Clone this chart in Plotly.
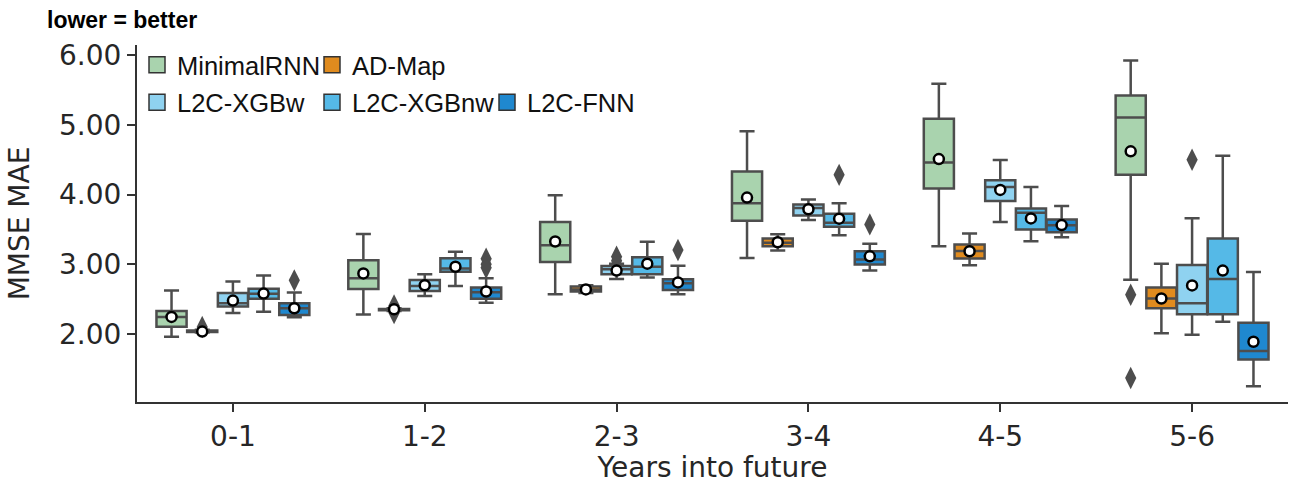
import plotly.graph_objects as go

# ---------------- data ----------------
categories = ["0-1", "1-2", "2-3", "3-4", "4-5", "5-6"]
series_names = ["MinimalRNN", "AD-Map", "L2C-XGBw", "L2C-XGBnw", "L2C-FNN"]

minrnn_low = [1.96, 2.28, 2.57, 3.09, 3.26, 2.78]
minrnn_q1 = [2.105, 2.645, 3.035, 3.626, 4.088, 4.284]
minrnn_med = [2.245, 2.80, 3.274, 3.876, 4.463, 5.107]
minrnn_q3 = [2.33, 3.06, 3.606, 4.333, 5.088, 5.424]
minrnn_high = [2.625, 3.435, 3.991, 4.91, 5.593, 5.925]
minrnn_mean = [2.245, 2.87, 3.328, 3.958, 4.511, 4.622]
minrnn_out = [[], [], [], [], [], [2.563, 1.369]]

admap_low = [2.02, 2.33, 2.59, 3.20, 2.986, 2.01]
admap_q1 = [2.03, 2.34, 2.61, 3.26, 3.082, 2.37]
admap_med = [2.04, 2.35, 2.64, 3.31, 3.19, 2.51]
admap_q3 = [2.05, 2.36, 2.68, 3.371, 3.284, 2.668]
admap_high = [2.06, 2.37, 2.70, 3.43, 3.443, 3.01]
admap_mean = [2.035, 2.355, 2.64, 3.317, 3.188, 2.51]
admap_out = [[2.10], [2.41, 2.30], [], [], [], []]

xgbw_low = [2.30, 2.545, 2.79, 3.635, 3.606, 1.99]
xgbw_q1 = [2.394, 2.617, 2.856, 3.70, 3.909, 2.284]
xgbw_med = [2.44, 2.69, 2.93, 3.81, 4.111, 2.443]
xgbw_q3 = [2.587, 2.775, 2.975, 3.86, 4.208, 2.99]
xgbw_high = [2.755, 2.856, 3.01, 3.93, 4.496, 3.66]
xgbw_mean = [2.48, 2.70, 2.91, 3.79, 4.068, 2.697]
xgbw_out = [[], [], [3.11, 3.05], [], [], [4.50]]

xgbnw_low = [2.32, 2.69, 2.81, 3.418, 3.33, 2.177]
xgbnw_q1 = [2.505, 2.895, 2.856, 3.54, 3.50, 2.284]
xgbnw_med = [2.577, 2.94, 2.965, 3.597, 3.74, 2.79]
xgbnw_q3 = [2.65, 3.086, 3.10, 3.727, 3.80, 3.371]
xgbnw_high = [2.84, 3.18, 3.325, 3.876, 4.11, 4.558]
xgbnw_mean = [2.58, 2.965, 3.01, 3.655, 3.659, 2.91]
xgbnw_out = [[], [], [], [4.284], [], []]

fnn_low = [2.24, 2.45, 2.57, 2.913, 3.39, 1.25]
fnn_q1 = [2.274, 2.505, 2.63, 2.996, 3.462, 1.635]
fnn_med = [2.37, 2.60, 2.73, 3.07, 3.56, 1.755]
fnn_q3 = [2.443, 2.668, 2.785, 3.188, 3.645, 2.163]
fnn_high = [2.596, 2.80, 2.98, 3.294, 3.837, 2.89]
fnn_mean = [2.37, 2.61, 2.74, 3.115, 3.563, 1.889]
fnn_out = [[2.77], [3.08, 3.00, 2.95], [3.205], [3.573], [], []]

y_tickvals = [2, 3, 4, 5, 6]
y_ticktext = ["2.00", "3.00", "4.00", "5.00", "6.00"]

# ---------------- style ----------------
colors = ["#a9d3ae", "#e08b1e", "#8fd2f0", "#55b9e7", "#1f88cf"]
edge = "#4d4d4d"
offsets = [-0.32, -0.16, 0.0, 0.16, 0.32]
box_w = 0.157
tick_font = dict(family="DejaVu Sans", size=28, color="#262626")

stats = [
    (minrnn_low, minrnn_q1, minrnn_med, minrnn_q3, minrnn_high, minrnn_mean, minrnn_out),
    (admap_low, admap_q1, admap_med, admap_q3, admap_high, admap_mean, admap_out),
    (xgbw_low, xgbw_q1, xgbw_med, xgbw_q3, xgbw_high, xgbw_mean, xgbw_out),
    (xgbnw_low, xgbnw_q1, xgbnw_med, xgbnw_q3, xgbnw_high, xgbnw_mean, xgbnw_out),
    (fnn_low, fnn_q1, fnn_med, fnn_q3, fnn_high, fnn_mean, fnn_out),
]

fig = go.Figure()

for i, (name, (lo, q1, med, q3, hi, mean, outs)) in enumerate(zip(series_names, stats)):
    xs = [g + offsets[i] for g in range(len(categories))]
    fig.add_trace(go.Box(
        x=xs, q1=q1, median=med, q3=q3, lowerfence=lo, upperfence=hi,
        width=box_w, whiskerwidth=0.5, boxpoints=False,
        fillcolor=colors[i], line=dict(color=edge, width=2.5),
        name=name, showlegend=False,
    ))

for i, (name, (lo, q1, med, q3, hi, mean, outs)) in enumerate(zip(series_names, stats)):
    ox, oy = [], []
    for g, vals in enumerate(outs):
        for v in vals:
            ox.append(g + offsets[i])
            oy.append(v)
    if ox:
        fig.add_trace(go.Scatter(
            x=ox, y=oy, mode="markers", showlegend=False,
            marker=dict(symbol="diamond-tall", size=16, color=edge,
                        line=dict(color=edge, width=0)),
        ))

for i, (name, (lo, q1, med, q3, hi, mean, outs)) in enumerate(zip(series_names, stats)):
    xs = [g + offsets[i] for g in range(len(categories))]
    fig.add_trace(go.Scatter(
        x=xs, y=mean, mode="markers", showlegend=False,
        marker=dict(symbol="circle", size=10, color="white",
                    line=dict(color="black", width=2.5)),
    ))

# legend entries
for i, name in enumerate(series_names):
    fig.add_trace(go.Scatter(
        x=[None], y=[None], mode="markers", name=name,
        legend="legend" if i < 2 else "legend2",
        marker=dict(symbol="square", size=16, color=colors[i],
                    line=dict(color="#333333", width=1.5)),
    ))

leg_common = dict(
    orientation="h", xref="paper", yref="paper", xanchor="left", yanchor="top",
    font=dict(family="Liberation Sans", size=25.5, color="#111111"),
    bgcolor="rgba(0,0,0,0)", entrywidth=130, entrywidthmode="pixels",
    itemclick=False, itemdoubleclick=False,
)

fig.update_layout(
    width=1304, height=484,
    margin=dict(l=137, r=16, t=45, b=82),
    paper_bgcolor="white", plot_bgcolor="white",
    boxmode="overlay",
    title=dict(text="<b>lower = better</b>", xref="container", yref="container",
               x=47 / 1304, y=1 - 20 / 484, xanchor="left", yanchor="middle",
               font=dict(family="Liberation Sans", size=23, color="black")),
    xaxis=dict(range=[-0.5, 5.5], tickvals=list(range(len(categories))), ticktext=categories,
               showline=True, linecolor="#333333", linewidth=2, ticks="outside",
               ticklen=8, tickwidth=1.5, tickcolor="#333333", showgrid=False, zeroline=False,
               tickfont=tick_font, automargin=False,
               title=dict(text="Years into future", font=tick_font, standoff=10)),
    yaxis=dict(range=[1.024, 6.148], tickvals=y_tickvals, ticktext=y_ticktext,
               showline=True, linecolor="#333333", linewidth=2, ticks="outside",
               ticklen=8, tickwidth=1.5, tickcolor="#333333", showgrid=False, zeroline=False,
               tickfont=tick_font, automargin=False,
               title=dict(text="MMSE MAE", font=tick_font, standoff=21)),
    legend=dict(x=0.0, y=1.009, **leg_common),
    legend2=dict(x=0.0, y=0.904, **leg_common),
)

fig.write_html("out.html")
